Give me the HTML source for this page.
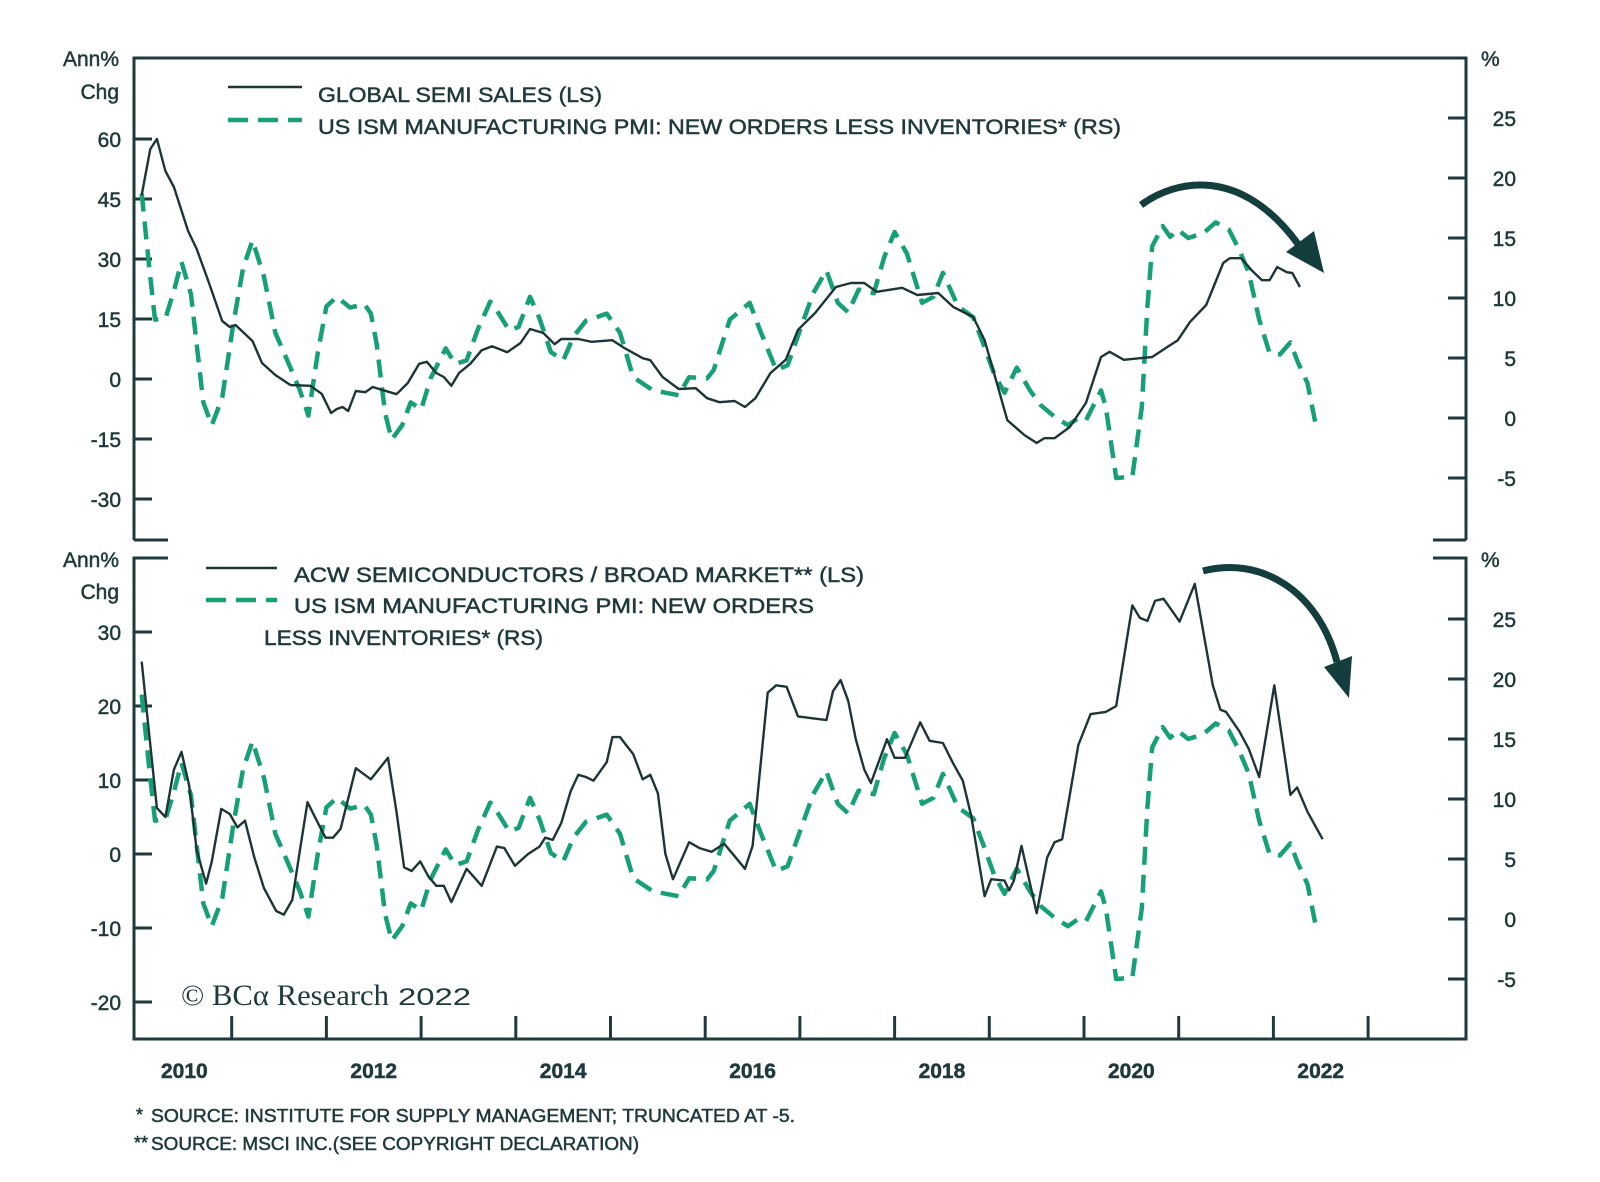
<!DOCTYPE html>
<html><head><meta charset="utf-8"><title>Semi sales vs ISM</title>
<style>
html,body{margin:0;padding:0;background:#fff;}
svg{display:block;font-family:"Liberation Sans",sans-serif;}
svg text{stroke:#1f3a3c;stroke-width:0.5;}
svg text.serif{stroke-width:0;}
</style></head>
<body>
<svg id="chart" width="1600" height="1182" viewBox="0 0 1600 1182" xmlns="http://www.w3.org/2000/svg">
<g id="frames"></g>
<g id="ticks"></g>
<g id="series"></g>
<g>
<path d="M1141,205 C1175,180 1240,165 1298,244" fill="none" stroke="#143d3d" stroke-width="7"/>
<polygon points="1286,252 1314,231 1324,273" fill="#143d3d"/>
</g>
<g>
<path d="M1203,571 C1260,556 1318,590 1337,662" fill="none" stroke="#143d3d" stroke-width="7"/>
<polygon points="1324,667 1352,656 1349,698" fill="#143d3d"/>
</g>
<g fill="#1f3a3c" font-size="21">
<text x="119" y="66" text-anchor="end">Ann%</text>
<text x="119" y="99" text-anchor="end">Chg</text>
<text x="1481" y="66">%</text>
<text x="119" y="567" text-anchor="end">Ann%</text>
<text x="119" y="599" text-anchor="end">Chg</text>
<text x="1481" y="567">%</text>
</g>
<g fill="#1f3a3c" font-size="21">
<line x1="228" y1="87" x2="302" y2="87" stroke="#1d3537" stroke-width="2.5"/>
<text x="318" y="102" textLength="284" lengthAdjust="spacingAndGlyphs">GLOBAL SEMI SALES (LS)</text>
<line x1="228" y1="120" x2="302" y2="120" stroke="#17a077" stroke-width="4.5" stroke-dasharray="20,10"/>
<text x="318" y="134" textLength="803" lengthAdjust="spacingAndGlyphs">US ISM MANUFACTURING PMI: NEW ORDERS LESS INVENTORIES* (RS)</text>
</g>
<g fill="#1f3a3c" font-size="21">
<line x1="206" y1="568" x2="277" y2="568" stroke="#1d3537" stroke-width="2.5"/>
<text x="294" y="582" textLength="570" lengthAdjust="spacingAndGlyphs">ACW SEMICONDUCTORS / BROAD MARKET** (LS)</text>
<line x1="206" y1="600" x2="277" y2="600" stroke="#17a077" stroke-width="4.5" stroke-dasharray="20,10"/>
<text x="294" y="613" textLength="520" lengthAdjust="spacingAndGlyphs">US ISM MANUFACTURING PMI: NEW ORDERS</text>
<text x="264" y="645" textLength="279" lengthAdjust="spacingAndGlyphs">LESS INVENTORIES* (RS)</text>
</g>
<text class="serif" x="181" y="1005" fill="#1f3a3c" font-family="Liberation Serif, serif" font-size="30" textLength="208" lengthAdjust="spacingAndGlyphs">© BCα Research</text>
<text class="serif" x="398" y="1005" fill="#1f3a3c" font-size="24" textLength="73" lengthAdjust="spacingAndGlyphs">2022</text>
<g fill="#1f3a3c" font-size="18">
<text x="136" y="1121">*</text>
<text x="151" y="1122" textLength="644" lengthAdjust="spacingAndGlyphs">SOURCE: INSTITUTE FOR SUPPLY MANAGEMENT; TRUNCATED AT -5.</text>
<text x="134" y="1149">**</text>
<text x="151" y="1150" textLength="488" lengthAdjust="spacingAndGlyphs">SOURCE: MSCI INC.(SEE COPYRIGHT DECLARATION)</text>
</g>
</svg>
<script>
// ---- data (decimal years, values) ----
const semiDates = [2010.05,2010.14,2010.21,2010.30,2010.39,2010.54,2010.63,2010.76,2010.90,2010.98,2011.04,2011.22,2011.32,2011.46,2011.62,2011.83,2011.95,2012.05,2012.11,2012.17,2012.23,2012.31,2012.41,2012.49,2012.60,2012.74,2012.86,2012.98,2013.06,2013.16,2013.24,2013.32,2013.40,2013.52,2013.64,2013.75,2013.91,2014.05,2014.15,2014.29,2014.41,2014.48,2014.66,2014.80,2015.02,2015.15,2015.34,2015.42,2015.55,2015.72,2015.90,2016.02,2016.15,2016.31,2016.42,2016.53,2016.69,2016.85,2016.98,2017.16,2017.38,2017.54,2017.68,2017.81,2018.08,2018.24,2018.46,2018.62,2018.83,2018.95,2019.05,2019.19,2019.37,2019.50,2019.58,2019.69,2019.85,2020.02,2020.18,2020.27,2020.42,2020.72,2020.88,2020.99,2021.12,2021.29,2021.47,2021.54,2021.66,2021.77,2021.88,2021.96,2022.04,2022.14,2022.20,2022.28];
const semiValues = [46,57.5,60,52,48,37,32.5,24,14.5,13,13.5,9.5,4,1,-1.5,-1.7,-3.7,-8.5,-7.5,-7,-8,-3,-3.3,-2,-2.8,-3.8,-1,3.8,4.3,1.5,0.5,-1.7,1.5,3.8,7.2,8.2,6.7,9,12.5,11.5,8.7,10,10,9.3,9.7,7.7,5.2,4.7,0.5,-2.5,-2.3,-4.8,-5.8,-5.5,-7,-4.8,1.5,4.8,12.3,16.5,23,24,24,21.8,22.8,21,21.5,18,15.5,9.7,1.5,-10.3,-14,-16,-14.8,-14.8,-12,-6,5.5,6.8,4.8,5.5,8,9.7,14.3,18.5,29,30.2,30.2,27.2,24.7,24.7,28,26.7,26.5,23];
const ismDates = [2010.05,2010.13,2010.19,2010.30,2010.39,2010.47,2010.57,2010.70,2010.79,2010.90,2011.02,2011.12,2011.22,2011.34,2011.46,2011.62,2011.72,2011.81,2011.91,2012.00,2012.11,2012.25,2012.40,2012.47,2012.53,2012.62,2012.69,2012.80,2012.89,2013.00,2013.10,2013.26,2013.36,2013.48,2013.60,2013.73,2013.82,2013.93,2014.03,2014.15,2014.25,2014.37,2014.50,2014.61,2014.74,2014.96,2015.10,2015.24,2015.45,2015.72,2015.83,2016.02,2016.09,2016.26,2016.47,2016.58,2016.75,2016.87,2017.00,2017.14,2017.28,2017.40,2017.51,2017.62,2017.78,2017.89,2018.00,2018.13,2018.29,2018.41,2018.51,2018.67,2018.83,2018.95,2019.05,2019.16,2019.29,2019.43,2019.54,2019.69,2019.83,2019.94,2020.02,2020.18,2020.23,2020.34,2020.51,2020.61,2020.67,2020.72,2020.83,2020.91,2020.99,2021.10,2021.26,2021.39,2021.53,2021.64,2021.74,2021.85,2021.96,2022.07,2022.18,2022.25,2022.36,2022.44];
const ismValues = [18.7,12.5,8.2,8.3,10.6,13,10.3,1.3,-0.6,1.7,8,12.5,14.8,11.8,7.1,4.2,2.3,0.2,5.5,9.3,10.1,9.2,9.5,8.7,6.2,0.4,-1.8,-0.6,1.3,0.7,3.3,5.8,4.5,4.8,7.4,9.7,8.7,7.3,7.6,10.1,8.3,5.5,4.8,6.8,8.1,8.7,7.1,3.4,2.3,1.9,3.4,3.3,4,8.2,9.6,7.3,4,4.4,7.3,10.4,12.3,9.6,8.8,10.7,10.4,13.4,15.5,13.7,9.6,10.1,12.1,9.3,8.4,5.9,3.7,2.1,4.2,2.3,1.1,0.1,-0.6,0,-0.2,2.3,0.9,-5,-4.9,0.9,9.3,14.3,16,15.1,15.7,15,15.4,16.3,15.7,14,12.1,8.2,5.4,5.3,6.3,4.8,2.9,-0.3];
const acwDates = [2010.05,2010.12,2010.21,2010.30,2010.39,2010.47,2010.55,2010.63,2010.73,2010.79,2010.89,2010.98,2011.06,2011.14,2011.24,2011.34,2011.47,2011.55,2011.64,2011.72,2011.80,2011.91,2011.99,2012.07,2012.15,2012.31,2012.47,2012.65,2012.74,2012.82,2012.90,2012.99,2013.08,2013.16,2013.24,2013.32,2013.48,2013.64,2013.80,2013.88,2013.99,2014.13,2014.25,2014.31,2014.39,2014.48,2014.58,2014.66,2014.74,2014.82,2014.96,2015.02,2015.10,2015.24,2015.34,2015.42,2015.50,2015.58,2015.66,2015.83,2015.94,2016.07,2016.20,2016.31,2016.42,2016.50,2016.58,2016.66,2016.75,2016.86,2016.98,2017.28,2017.35,2017.43,2017.51,2017.59,2017.68,2017.75,2017.92,2018.00,2018.11,2018.27,2018.37,2018.51,2018.62,2018.72,2018.81,2018.95,2019.02,2019.16,2019.21,2019.26,2019.34,2019.50,2019.61,2019.69,2019.77,2019.94,2020.07,2020.23,2020.34,2020.51,2020.59,2020.67,2020.75,2020.84,2021.01,2021.17,2021.36,2021.44,2021.50,2021.64,2021.74,2021.85,2021.93,2022.01,2022.18,2022.25,2022.36,2022.52];
const acwValues = [26,17.2,6.2,5,11.4,13.8,9.3,0.5,-4,-1,6.1,5.4,3.6,4.5,-0.5,-4.6,-7.7,-8.2,-6.2,0.5,7,4.2,2.2,2.2,3.4,11.6,10.1,13,5.7,-1.8,-2.3,-1,-3.1,-4.3,-4.3,-6.5,-2,-4.3,1,0.8,-1.6,0,1,2.2,1.9,4.2,8.5,10.7,10.4,9.9,12.4,15.8,15.8,13.5,10.1,10.7,8.2,0,-3.4,1.6,0.8,0.3,1.4,-0.3,-2,1.1,11.4,21.8,22.8,22.6,18.6,18.1,22,23.5,20.7,15.5,11.4,9.6,15.5,13,13,17.8,15.3,15,12.2,9.9,5.1,-5.7,-3.4,-3.6,-4.9,-3.6,1.1,-8,-0.5,1.6,2,14.7,18.9,19.2,20,33.6,31.9,31.5,34.2,34.5,31.4,36.5,22.8,19.5,19.2,16.6,14.2,10.4,16.6,22.8,8,9,5.7,2];
const topLeftTicks = [60,45,30,15,0,-15,-30];
const topRightTicks = [25,20,15,10,5,0,-5];
const botLeftTicks = [30,20,10,0,-10,-20];
const botRightTicks = [25,20,15,10,5,0,-5];
const yearTicks = [2011,2012,2013,2014,2015,2016,2017,2018,2019,2020,2021,2022,2023];
const yearLabels = ["2010","2012","2014","2016","2018","2020","2022"];

// ---- axes ----
const X0 = 134, X1 = 1466;
const xS = t => 137 + (t - 2010) * 94.7;
const yTL = v => 379 - v * 4;
const yTR = v => 418 - v * 12;
const yBL = v => 854 - v * 7.4;
const yBR = v => 919 - v * 12;
const NS = "http://www.w3.org/2000/svg";
const DARK = "#1f3a3c";
function mk(tag, parent, attrs) {
  const el = document.createElementNS(NS, tag);
  for (const k in attrs) el.setAttribute(k, attrs[k]);
  parent.appendChild(el);
  return el;
}
const frames = document.getElementById("frames");
const ticks = document.getElementById("ticks");
const series = document.getElementById("series");

let f = mk("path", frames, {d: `M${X0},540 L${X0},58 L${X1},58 L${X1},540 M${X0},540 L168,540 M1433,540 L${X1},540`, fill: "none", stroke: DARK, "stroke-width": 3});


f = mk("path", frames, {d: `M168,558 L${X0},558 L${X0},1039 L${X1},1039 L${X1},558 L1433,558`, fill: "none", stroke: DARK, "stroke-width": 3});



function yTicks(arr, fy, side, name) {
  arr.forEach(v => {
    const y = fy(v);
    const l = side === "L" ? mk("line", ticks, {x1: X0, x2: 152, y1: y, y2: y, stroke: DARK, "stroke-width": 3})
                           : mk("line", ticks, {x1: 1448, x2: X1, y1: y, y2: y, stroke: DARK, "stroke-width": 3});
    
    
    const t = mk("text", ticks, {x: side === "L" ? 121 : 1516, y: y + 8, "text-anchor": "end", "font-size": 21, fill: DARK});
    t.textContent = String(v);
    
    
  });
}
yTicks(topLeftTicks, yTL, "L", "top-left-axis");
yTicks(topRightTicks, yTR, "R", "top-right-axis");
yTicks(botLeftTicks, yBL, "L", "bottom-left-axis");
yTicks(botRightTicks, yBR, "R", "bottom-right-axis");

yearTicks.forEach(yr => {
  const x = xS(yr);
  const l = mk("line", ticks, {x1: x, x2: x, y1: 1016, y2: 1039, stroke: DARK, "stroke-width": 3});
  
  
});
yearLabels.forEach(lbl => {
  const t = mk("text", ticks, {x: xS(+lbl + 0.5), y: 1078, "text-anchor": "middle", "font-size": 21, "font-weight": "bold", fill: DARK});
  t.textContent = lbl;
  
  
});

function line(dates, vals, fy, dashed, name) {
  const d = dates.map((t, i) => (i ? "L" : "M") + xS(t).toFixed(1) + "," + fy(vals[i]).toFixed(1)).join(" ");
  const p = mk("path", series, dashed
    ? {d, fill: "none", stroke: "#17a077", "stroke-width": 4.5, "stroke-dasharray": "18,10", "stroke-linejoin": "round"}
    : {d, fill: "none", stroke: "#1d3537", "stroke-width": 2.4, "stroke-linejoin": "round"});
  
  
}
line(ismDates, ismValues, yTR, true, "top-ism-line");
line(semiDates, semiValues, yTL, false, "global-semi-sales-line");
line(ismDates, ismValues, yBR, true, "bottom-ism-line");
line(acwDates, acwValues, yBL, false, "acw-semis-relative-line");
</script>
</body></html>
